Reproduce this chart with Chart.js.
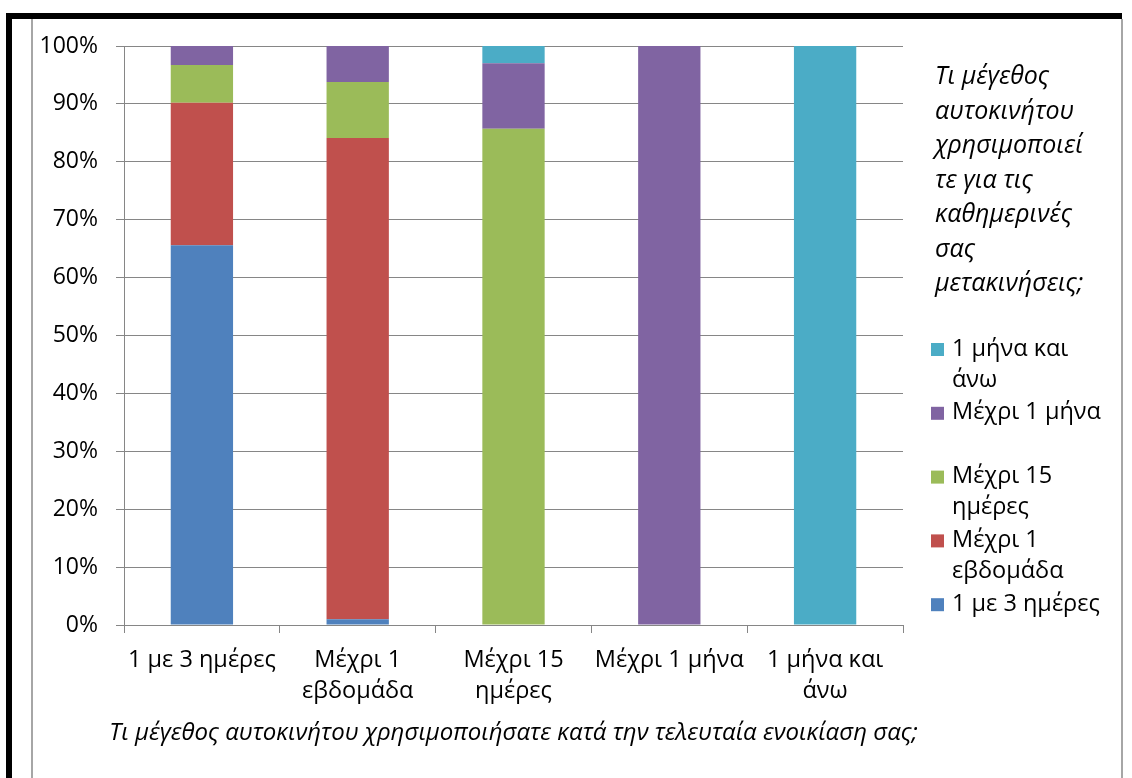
<!DOCTYPE html>
<html>
<head>
<meta charset="utf-8">
<script src="https://cdn.jsdelivr.net/npm/chart.js@4.4.1/dist/chart.umd.min.js"></script>
<style>
  html, body { margin: 0; padding: 0; background: #fff; }
  #wrap { position: relative; width: 1132px; height: 778px; overflow: hidden; }
  canvas { position: absolute; left: 0; top: 0; }
  .bar { position: absolute; }
</style>
</head>
<body>
<div id="wrap">
  <canvas id="chart" width="1132" height="778"></canvas>
  <div class="bar" style="left:6px;top:13px;width:6px;height:765px;background:#000"></div>
  <div class="bar" style="left:6px;top:13px;width:1116px;height:6px;background:#000"></div>
  <div class="bar" style="left:31px;top:19px;width:2px;height:759px;background:#a6a6a6"></div>
  <div class="bar" style="left:1121px;top:19px;width:2px;height:759px;background:#a6a6a6"></div>
</div>
<script>
// categories (x axis), wrapped like the original
const categories = [
  ['1 με 3 ημέρες'],
  ['Μέχρι 1', 'εβδομάδα'],
  ['Μέχρι 15', 'ημέρες'],
  ['Μέχρι 1 μήνα'],
  ['1 μήνα και', 'άνω']
];

// series names (same wording as categories)
const seriesNames = ['1 με 3 ημέρες', 'Μέχρι 1 εβδομάδα', 'Μέχρι 15 ημέρες', 'Μέχρι 1 μήνα', '1 μήνα και άνω'];
const seriesLegendLines = [
  ['1 με 3 ημέρες'],
  ['Μέχρι 1', 'εβδομάδα'],
  ['Μέχρι 15', 'ημέρες'],
  ['Μέχρι 1 μήνα'],
  ['1 μήνα και', 'άνω']
];

// percentage shares per category
const share13days  = [65.6, 1.0, 0, 0, 0];
const shareWeek    = [24.6, 83.1, 0, 0, 0];
const share15days  = [6.5, 9.7, 85.7, 0, 0];
const shareMonth   = [3.3, 6.2, 11.3, 100, 0];
const shareOver    = [0, 0, 3.0, 0, 100];

const seriesColors = ['#4F81BD', '#C0504D', '#9BBB59', '#8064A2', '#4BACC6'];

const yTicks = [0, 10, 20, 30, 40, 50, 60, 70, 80, 90, 100];

const xTitle = 'Τι μέγεθος αυτοκινήτου χρησιμοποιήσατε κατά την τελευταία ενοικίαση σας;';
const legendTitleLines = ['Τι μέγεθος', 'αυτοκινήτου', 'χρησιμοποιεί', 'τε για τις', 'καθημερινές', 'σας', 'μετακινήσεις;'];

const FONT = '"Open Sans", "Noto Sans", sans-serif';
const GRID = '#868686';

const allShares = [share13days, shareWeek, share15days, shareMonth, shareOver];

// axis title (wider than the plot, so not clipped to it) and the legend on the right
const sideTexts = {
  id: 'sideTexts',
  afterDraw(chart) {
    const ctx = chart.ctx;
    const xs = chart.scales.x;
    ctx.save();
    ctx.fillStyle = '#000';
    ctx.textBaseline = 'middle';

    ctx.textAlign = 'center';
    ctx.font = 'italic 24px ' + FONT;
    ctx.fillText(xTitle, (xs.left + xs.right) / 2, 733);

    ctx.textAlign = 'left';
    ctx.font = 'italic 25px ' + FONT;
    legendTitleLines.forEach((line, i) => {
      ctx.fillText(line, 935, 77 + i * 34.5);
    });

    ctx.font = '23.5px ' + FONT;
    const order = [4, 3, 2, 1, 0];
    order.forEach((idx, k) => {
      const y = 349 + k * 63.8;
      ctx.fillStyle = chart.data.datasets[idx].backgroundColor;
      ctx.fillRect(931, y - 6, 13, 13);
      ctx.fillStyle = '#000';
      seriesLegendLines[idx].forEach((line, j) => {
        ctx.fillText(line, 952, y + j * 31);
      });
    });
    ctx.restore();
  }
};

new Chart(document.getElementById('chart'), {
  type: 'bar',
  data: {
    labels: categories,
    datasets: seriesNames.map((name, i) => ({
      label: name,
      data: allShares[i],
      backgroundColor: seriesColors[i],
      borderWidth: 0,
      barPercentage: 0.4,
      categoryPercentage: 1.0
    }))
  },
  options: {
    responsive: false,
    animation: false,
    layout: { padding: { left: 0, top: 46, right: 229, bottom: 0 } },
    plugins: {
      legend: { display: false },
      tooltip: { enabled: false }
    },
    scales: {
      x: {
        stacked: true,
        grid: {
          offset: true,
          drawOnChartArea: false,
          drawTicks: true,
          tickLength: 8,
          color: GRID
        },
        border: { color: GRID, width: 1 },
        ticks: {
          color: '#000',
          padding: 12,
          maxRotation: 0,
          autoSkip: false,
          font: { family: FONT, size: 23.5, lineHeight: 1.32 }
        },
        afterFit(scale) { scale.height = 153; }
      },
      y: {
        stacked: true,
        min: 0,
        max: 100,
        afterBuildTicks(scale) { scale.ticks = yTicks.map(v => ({ value: v })); },
        grid: { color: GRID, tickLength: 8 },
        border: { color: GRID, width: 1 },
        ticks: {
          color: '#000',
          padding: 18,
          font: { family: FONT, size: 23 },
          callback: v => v + '%'
        },
        afterFit(scale) { scale.width = 124; }
      }
    }
  },
  plugins: [sideTexts]
});
</script>
</body>
</html>
